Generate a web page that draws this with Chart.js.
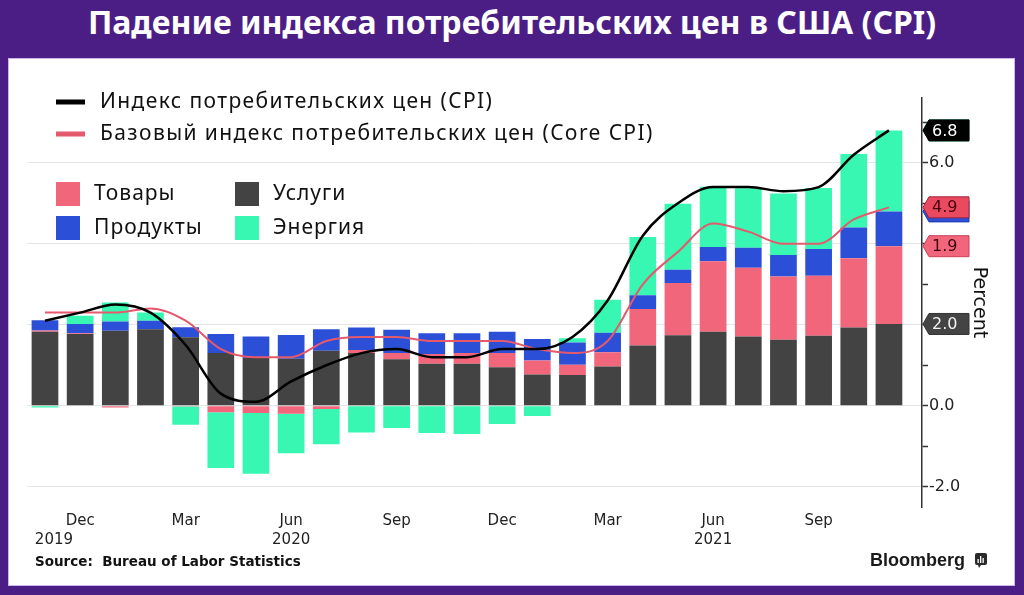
<!DOCTYPE html>
<html><head><meta charset="utf-8">
<script src="https://cdn.jsdelivr.net/npm/chart.js@4"></script>
<style>
html,body{margin:0;padding:0;width:1024px;height:595px;background:#4b1e85;overflow:hidden;}
#title{position:absolute;left:0;top:0;width:1024px;height:48px;line-height:46px;text-align:center;color:#fff;font:700 32px "Noto Sans";}
#panel{position:absolute;left:9px;top:59px;width:1005px;height:526px;background:#fff;box-shadow:0 0 0 1px #cdb6ea;}
canvas{display:block;}
</style></head><body>
<div id="title">Падение индекса потребительских цен в США (CPI)</div>
<div id="panel"><canvas id="c" width="1005" height="526" style="width:1005px;height:526px"></canvas></div>
<script>
// Months: Nov 2019 .. Nov 2021
const months = ["2019-11","2019-12","2020-01","2020-02","2020-03","2020-04","2020-05","2020-06","2020-07","2020-08","2020-09","2020-10","2020-11","2020-12","2021-01","2021-02","2021-03","2021-04","2021-05","2021-06","2021-07","2021-08","2021-09","2021-10","2021-11"];
const services = [1.83,1.77,1.85,1.89,1.69,1.30,1.18,1.16,1.36,1.30,1.15,1.04,1.04,0.95,0.77,0.76,0.97,1.49,1.74,1.83,1.71,1.63,1.73,1.93,2.02];
const goods    = [0.03,0.02,-0.04,0.00,-0.02,-0.16,-0.18,-0.20,-0.08,0.08,0.15,0.24,0.26,0.35,0.35,0.25,0.35,0.90,1.29,1.74,1.70,1.56,1.48,1.71,1.92];
const food     = [0.25,0.23,0.23,0.21,0.25,0.47,0.53,0.59,0.53,0.55,0.58,0.51,0.49,0.53,0.53,0.55,0.48,0.34,0.33,0.35,0.49,0.53,0.66,0.76,0.86];
const energy   = [-0.04,0.20,0.47,0.20,-0.45,-1.38,-1.50,-0.97,-0.87,-0.66,-0.55,-0.67,-0.70,-0.45,-0.25,0.11,0.82,1.44,1.63,1.49,1.47,1.52,1.51,1.82,2.00];
const cpi      = [2.1,2.3,2.5,2.3,1.5,0.3,0.1,0.6,1.0,1.3,1.4,1.2,1.2,1.4,1.4,1.7,2.6,4.2,5.0,5.4,5.4,5.3,5.4,6.2,6.8];
const core     = [2.3,2.3,2.3,2.4,2.1,1.4,1.2,1.2,1.6,1.7,1.7,1.6,1.6,1.6,1.4,1.3,1.6,3.0,3.8,4.5,4.3,4.0,4.0,4.6,4.9];
const xTickIdx  = [1,4,7,10,13,16,19,22];
const xTickText = [["Dec","2019           "],"Mar",["Jun","2020"],"Sep","Dec","Mar",["Jun","2021"],"Sep"];
const yTickValues = [-2,-1,0,1,2,3,4,5,6,7];

const C = {services:"#434343", goods:"#f2667b", food:"#2c4fd8", energy:"#37f7b2", cpi:"#000000", core:"#e5596d"};
const pts = arr => arr.map((v,i)=>({x:i,y:v}));

const overlay = {
  id:"overlay",
  afterDraw(chart){
    const ctx = chart.ctx, ys = chart.scales.y, ca = chart.chartArea;
    ctx.save();
    // line legend
    ctx.textBaseline = "middle"; ctx.textAlign = "left";
    ctx.font = '21px "Noto Sans"'; ctx.letterSpacing = "1.4px";
    const lineLeg = [["Индекс потребительских цен (CPI)", C.cpi, 43],["Базовый индекс потребительских цен (Core CPI)", C.core, 75]];
    lineLeg.forEach(([t,c,y])=>{
      ctx.fillStyle = c; ctx.fillRect(47, y-2.5, 29, 5);
      ctx.fillStyle = "#111"; ctx.fillText(t, 91, y);
    });
    // box legend
    ctx.font = '21px "Noto Sans"'; ctx.letterSpacing = "1px";
    const boxLeg = [["Товары",C.goods,47,135],["Продукты",C.food,47,169],["Услуги",C.services,226,135],["Энергия",C.energy,226,169]];
    boxLeg.forEach(([t,c,x,y])=>{
      ctx.fillStyle = c; ctx.fillRect(x, y-12, 24, 24);
      ctx.fillStyle = "#111"; ctx.fillText(t, x+38, y);
    });
    ctx.letterSpacing = "0px";
    // value tags at right axis
    const L = cpi.length-1;
    const s1 = services[L], s2 = s1+goods[L], s3 = s2+food[L], s4 = s3+energy[L];
    const tags = [
      {v:s4, t:energy[L], bg:C.energy, fg:"#0b3a2a", st:"#20c08a"},
      {v:s1, t:services[L], bg:"#444444", fg:"#f2f2f2", st:"#333"},
      {v:s2, t:goods[L], bg:C.goods, fg:"#3d0612", st:"#c8405a"},
      {v:s3, t:food[L], bg:C.food, fg:"#ffffff", st:"#1c3ab0"},
      {v:core[L], t:core[L], bg:"#ea4a60", fg:"#4a0010", st:"#a8233a"},
      {v:cpi[L], t:cpi[L], bg:"#000000", fg:"#ffffff", st:"#000"}
    ];
    const x0 = ca.right + 1;
    ctx.font = '16px "DejaVu Sans"';
    tags.forEach(g=>{
      const y = ys.getPixelForValue(g.v), h = 10.5;
      ctx.beginPath();
      ctx.moveTo(x0, y); ctx.lineTo(x0+6, y-h); ctx.lineTo(x0+46, y-h);
      ctx.lineTo(x0+46, y+h); ctx.lineTo(x0+6, y+h); ctx.closePath();
      ctx.fillStyle = g.bg; ctx.fill();
      ctx.lineWidth = 1; ctx.strokeStyle = g.st; ctx.stroke();
      ctx.fillStyle = g.fg; ctx.textAlign = "left";
      ctx.fillText(g.t.toFixed(1), x0+9, y+1);
    });
    // source
    ctx.textAlign = "left"; ctx.fillStyle = "#111";
    ctx.font = 'bold 13.5px "DejaVu Sans"';
    ctx.fillText("Source:  Bureau of Labor Statistics", 26, 503);
    // Bloomberg
    ctx.font = 'bold 18px "Liberation Sans"';
    ctx.fillStyle = "#1a1a1a";
    ctx.fillText("Bloomberg", 861, 502);
    ctx.fillStyle = "#2a2a2a";
    ctx.beginPath();
    ctx.roundRect(966, 494, 12, 12, 2); ctx.fill();
    ctx.beginPath(); ctx.moveTo(969,506); ctx.lineTo(972,506); ctx.lineTo(970,509); ctx.closePath(); ctx.fill();
    ctx.fillStyle = "#fff";
    ctx.fillRect(968.5, 500, 1.3, 4); ctx.fillRect(971, 497, 1.3, 7); ctx.fillRect(973.5, 499, 1.3, 5);
    ctx.restore();
  }
};

const barDs = (label, data, color) => ({type:"bar", label, data:pts(data), backgroundColor:color, borderWidth:0, order:2, stack:"parts", barPercentage:0.76, categoryPercentage:1});
new Chart(document.getElementById("c"), {
  data:{datasets:[
    {type:"line", label:"Индекс потребительских цен (CPI)", data:pts(cpi), stack:"cpi", borderColor:C.cpi, borderWidth:2.5, pointRadius:0, cubicInterpolationMode:"monotone", order:0},
    {type:"line", label:"Базовый индекс потребительских цен (Core CPI)", data:pts(core), stack:"core", borderColor:C.core, borderWidth:2, pointRadius:0, cubicInterpolationMode:"monotone", order:1},
    barDs("Услуги", services, C.services),
    barDs("Товары", goods, C.goods),
    barDs("Продукты", food, C.food),
    barDs("Энергия", energy, C.energy)
  ]},
  options:{
    responsive:false, animation:false, devicePixelRatio:1,
    layout:{padding:{left:18.4, top:39, right:0, bottom:0}},
    plugins:{legend:{display:false}, tooltip:{enabled:false}},
    scales:{
      x:{type:"linear", stacked:true, offset:false, min:-0.5, max:24.94, bounds:"data",
        grid:{display:false, drawTicks:false, offset:false}, border:{display:false},
        afterBuildTicks:s=>{s.ticks = xTickIdx.map(v=>({value:v}));},
        afterFit:s=>{s.height = 78;},
        ticks:{autoSkip:false, maxRotation:0, padding:4, color:"#222", font:{family:"DejaVu Sans", size:15, lineHeight:1.3},
          callback:v=>{const k = xTickIdx.indexOf(v); return k>=0 ? xTickText[k] : "";}}
      },
      y:{type:"linear", stacked:true, position:"right", min:-2.5, max:7.6,
        afterBuildTicks:s=>{s.ticks = yTickValues.map(v=>({value:v}));},
        afterFit:s=>{s.width = 92;},
        border:{display:true, color:"#333", width:1.5},
        grid:{color:c=> (c.tick && c.tick.value%2===0) ? "#e4e4e4" : "rgba(0,0,0,0)", lineWidth:1, drawTicks:true, tickLength:6, tickColor:"#333", tickWidth:1.5},
        ticks:{padding:1, color:"#222", font:{family:"DejaVu Sans", size:16},
          callback:v=> (v%2===0) ? v.toFixed(1) : ""},
        title:{display:true, text:"Percent", color:"#111", font:{family:"DejaVu Sans", size:19}, padding:{top:24, bottom:0}}
      }
    }
  },
  plugins:[overlay]
});
</script>
</body></html>
